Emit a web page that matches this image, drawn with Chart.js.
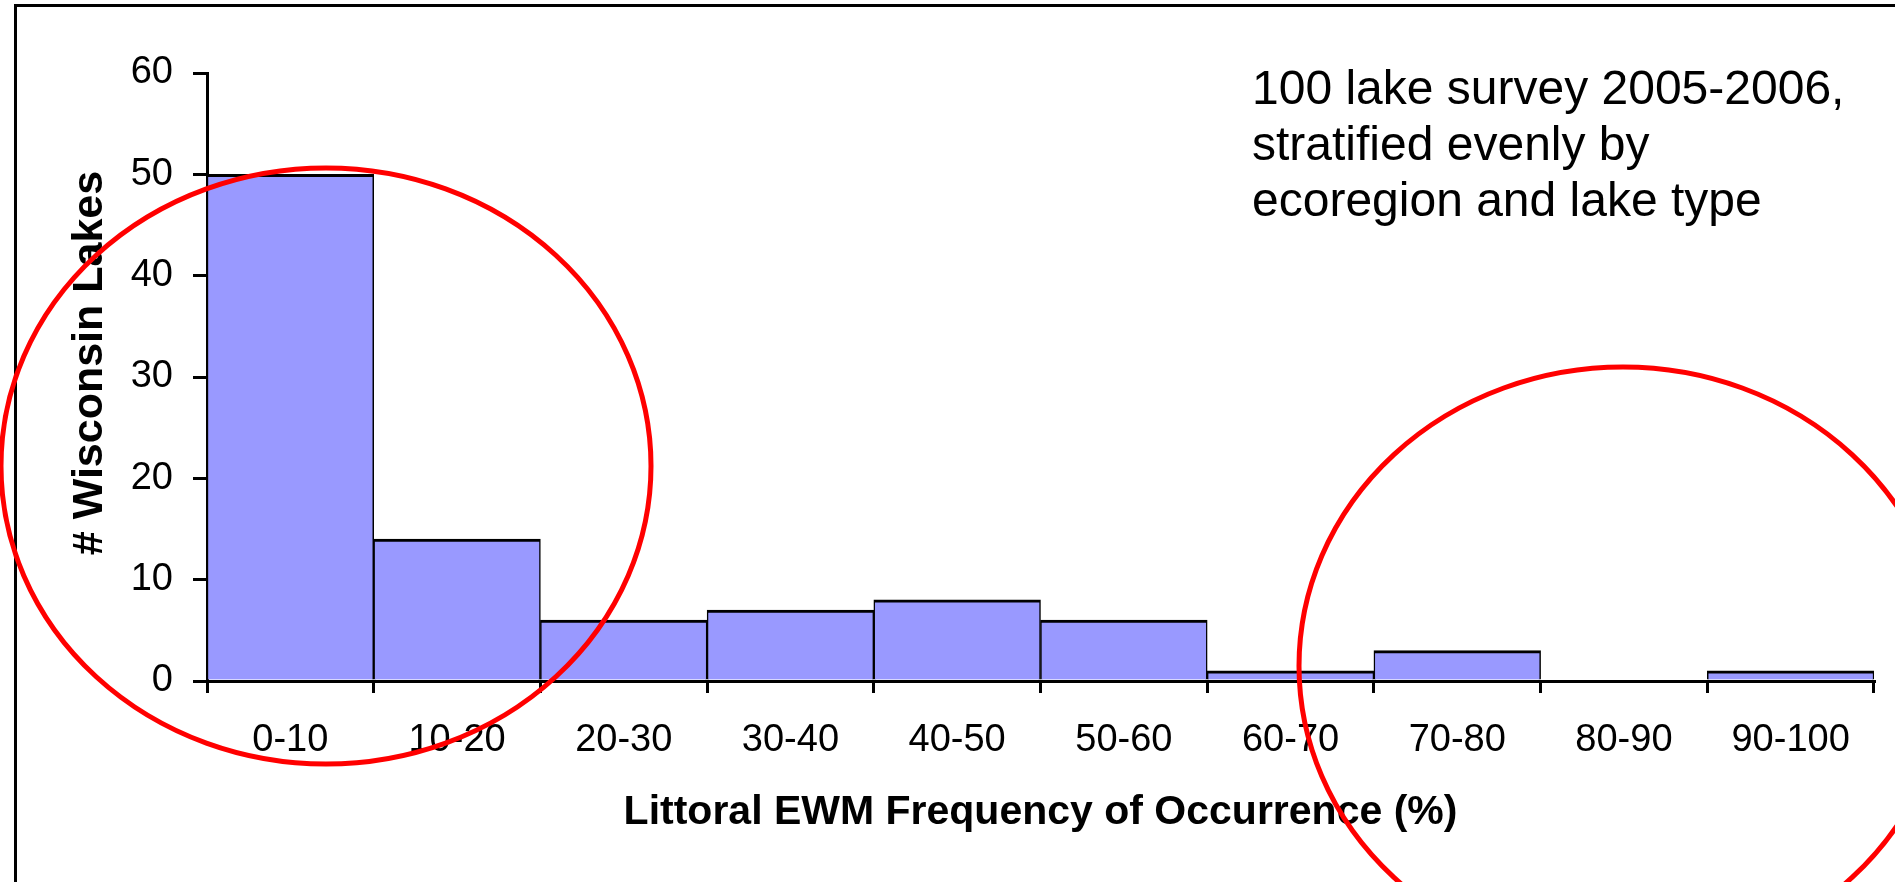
<!DOCTYPE html>
<html>
<head>
<meta charset="utf-8">
<script src="https://cdn.jsdelivr.net/npm/chart.js@4.4.0/dist/chart.umd.min.js"></script>
<style>
  html, body { margin:0; padding:0; background:#fff; overflow:hidden; }
  canvas { display:block; }
</style>
</head>
<body>
<canvas id="histChart" width="1895" height="882"></canvas>
<script>
// histogram bins and counts
const binLabels = ['0-10','10-20','20-30','30-40','40-50','50-60','60-70','70-80','80-90','90-100'];
const lakeCounts = [50, 14, 6, 7, 8, 6, 1, 3, 0, 1];
const yTicks = [0, 10, 20, 30, 40, 50, 60];
const yTitle = '# Wisconsin Lakes';
const noteLines = ['100 lake survey 2005-2006,', 'stratified evenly by', 'ecoregion and lake type'];

Chart.defaults.font.family = '"Liberation Sans", Arial, sans-serif';
Chart.defaults.color = '#000';

// frame, y title, note text and the red ellipses
const extras = {
    id: 'extras',
    afterDraw(chart) {
        const ctx = chart.ctx;
        ctx.save();
        ctx.fillStyle = '#000';
        ctx.fillRect(14, 4, 1895, 3);
        ctx.fillRect(14, 4, 3, 882);

        // y axis title, sits a bit above the middle like the original
        ctx.save();
        ctx.translate(90, 363);
        ctx.rotate(-Math.PI / 2);
        ctx.font = 'bold 43px "Liberation Sans", Arial, sans-serif';
        ctx.textAlign = 'center';
        ctx.textBaseline = 'middle';
        ctx.fillText(yTitle, 0, 0);
        ctx.restore();

        ctx.font = '48px "Liberation Sans", Arial, sans-serif';
        ctx.textAlign = 'left';
        ctx.textBaseline = 'alphabetic';
        noteLines.forEach((t, i) => ctx.fillText(t, 1252, 104 + i * 56));

        ctx.strokeStyle = '#ff0000';
        ctx.lineWidth = 5;
        ctx.beginPath();
        ctx.ellipse(326, 466, 325, 298, 0, 0, Math.PI * 2);
        ctx.stroke();
        ctx.beginPath();
        ctx.ellipse(1623, 666, 324, 299, 0, 0, Math.PI * 2);
        ctx.stroke();
        ctx.restore();
    }
};

const ctx = document.getElementById('histChart').getContext('2d');
const histChart = new Chart(ctx, {
    type: 'bar',
    data: {
        labels: binLabels,
        datasets: [{
            data: lakeCounts,
            backgroundColor: '#9999ff',
            borderColor: '#000',
            borderWidth: { top: 3, left: 1.5, right: 1.5, bottom: 0 },
            borderSkipped: false,
            barPercentage: 1,
            categoryPercentage: 1
        }]
    },
    options: {
        responsive: false,
        animation: false,
        layout: { padding: { top: 73, right: 21, left: 0, bottom: 0 } },
        plugins: {
            legend: { display: false },
            tooltip: { enabled: false }
        },
        scales: {
            x: {
                offset: true,
                afterFit(scale) { scale.height = 201; },
                grid: {
                    offset: true,
                    drawOnChartArea: false,
                    tickLength: 12,
                    color: '#000',
                    lineWidth: 3
                },
                border: { color: '#000', width: 3 },
                ticks: {
                    font: { size: 38 },
                    padding: 25,
                    maxRotation: 0,
                    autoSkip: false
                },
                title: {
                    display: true,
                    text: 'Littoral EWM Frequency of Occurrence (%)',
                    font: { size: 41, weight: 'bold' },
                    padding: { top: 0, bottom: 45 }
                }
            },
            y: {
                min: 0,
                max: 60,
                afterFit(scale) { scale.width = 207; },
                afterBuildTicks(scale) { scale.ticks = yTicks.map(v => ({ value: v })); },
                grid: {
                    drawOnChartArea: false,
                    tickLength: 14,
                    color: '#000',
                    lineWidth: 3
                },
                border: { color: '#000', width: 3 },
                ticks: {
                    font: { size: 38 },
                    padding: 20
                }
            }
        }
    },
    plugins: [extras]
});
</script>
</body>
</html>
